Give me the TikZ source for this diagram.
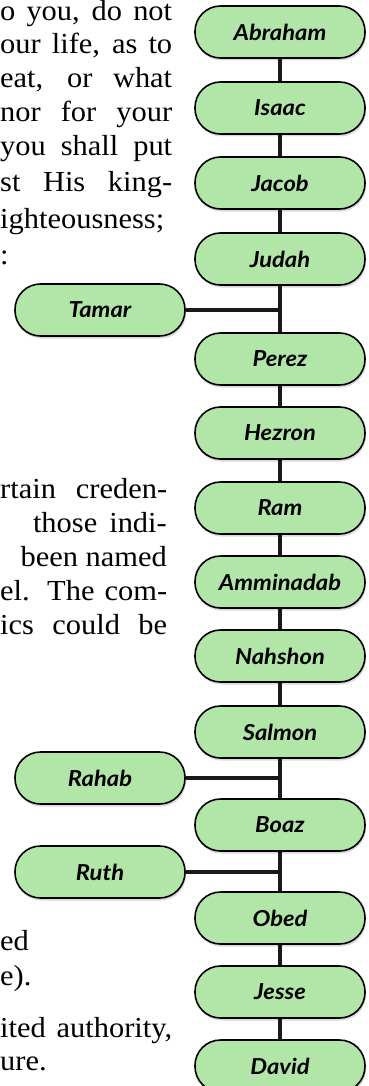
\documentclass[tikz,border=0pt]{standalone}
\usepackage{fontspec}
\setmainfont{Liberation Serif}[FakeStretch=1.05]
\newfontfamily\labelfont{Lato}[FakeStretch=1.08]
\usetikzlibrary{shadows}
\definecolor{boxgreen}{HTML}{B2E5A8}
\tikzset{
  person/.style={draw=black, line width=1.6pt, fill=boxgreen,
    rounded corners=25.5pt, minimum width=170pt, minimum height=52pt,
    inner sep=0pt, font=\labelfont\bfseries\itshape\fontsize{22}{24}\selectfont,
    drop shadow={opacity=0.3, shadow xshift=1pt, shadow yshift=-2.5pt}},
  link/.style={line width=4pt, draw=black!90},
  body/.style={anchor=base west, inner sep=0pt, font=\fontsize{29}{34}\selectfont},
  bodyr/.style={anchor=base east, inner sep=0pt, font=\fontsize{29}{34}\selectfont}
}
\begin{document}
\begin{tikzpicture}[x=1pt, y=-1pt]
\useasboundingbox (0,0) rectangle (369,1086);
\clip (0,0) rectangle (369,1086);
% body text fragments
\node[body] (t1) at (0,21) {\makebox[172pt][s]{o you, do not}};
\node[body] (t2) at (0,54) {\makebox[172pt][s]{our life, as to}};
\node[body] (t3) at (0,88) {\makebox[172pt][s]{eat, or what}};
\node[body] (t4) at (0,122) {\makebox[172pt][s]{nor for your}};
\node[body] (t5) at (0,156) {\makebox[172pt][s]{you shall put}};
\node[body] (t6) at (0,191) {\makebox[172pt][s]{st His king-}};
\node[body] (t7) at (0,228) {ighteousness;};
\node[body] (t8) at (0,264) {:};
\node[body] (m1) at (0,498) {\makebox[167pt][s]{rtain creden-}};
\node[bodyr] (m2) at (167,532) {those\hspace{12pt}indi-};
\node[bodyr] (m3) at (167,566) {been named};
\node[body] (m4) at (0,600) {\makebox[167pt][s]{el. The com-}};
\node[body] (m5) at (0,634) {\makebox[167pt][s]{ics could be}};
\node[body] (b1) at (0,950) {\makebox[28pt][s]{e\hfill d}};
\node[body] (b2) at (0,985) {e).};
\node[body] (b3) at (0,1037) {\makebox[172pt][s]{ited authority,}};
\node[body] (b4) at (0,1070) {ure.};
% genealogy
\node[person] (abraham) at (280,32) {Abraham};
\node[person] (isaac) at (280,108) {Isaac};
\node[person] (jacob) at (280,183) {Jacob};
\node[person] (judah) at (280,259) {Judah};
\node[person] (tamar) at (100,310) {Tamar};
\node[person] (perez) at (280,359) {Perez};
\node[person] (hezron) at (280,433) {Hezron};
\node[person] (ram) at (280,508) {Ram};
\node[person] (amminadab) at (280,582) {Amminadab};
\node[person] (nahshon) at (280,656) {Nahshon};
\node[person] (salmon) at (280,732) {Salmon};
\node[person] (rahab) at (100,778) {Rahab};
\node[person] (boaz) at (280,825) {Boaz};
\node[person] (ruth) at (100,872) {Ruth};
\node[person] (obed) at (280,918) {Obed};
\node[person] (jesse) at (280,992) {Jesse};
\node[person] (david) at (280,1066) {David};
% connectors
\foreach \a/\b in {abraham/isaac, isaac/jacob, jacob/judah, judah/perez,
  perez/hezron, hezron/ram, ram/amminadab, amminadab/nahshon,
  nahshon/salmon, salmon/boaz, boaz/obed, obed/jesse, jesse/david}
  \draw[link] (\a.south) -- (\b.north);
\coordinate (j1) at (282,310);
\coordinate (j2) at (282,778);
\coordinate (j3) at (282,872);
\draw[link] (tamar.east) -- (j1);
\draw[link] (rahab.east) -- (j2);
\draw[link] (ruth.east) -- (j3);
\end{tikzpicture}
\end{document}
